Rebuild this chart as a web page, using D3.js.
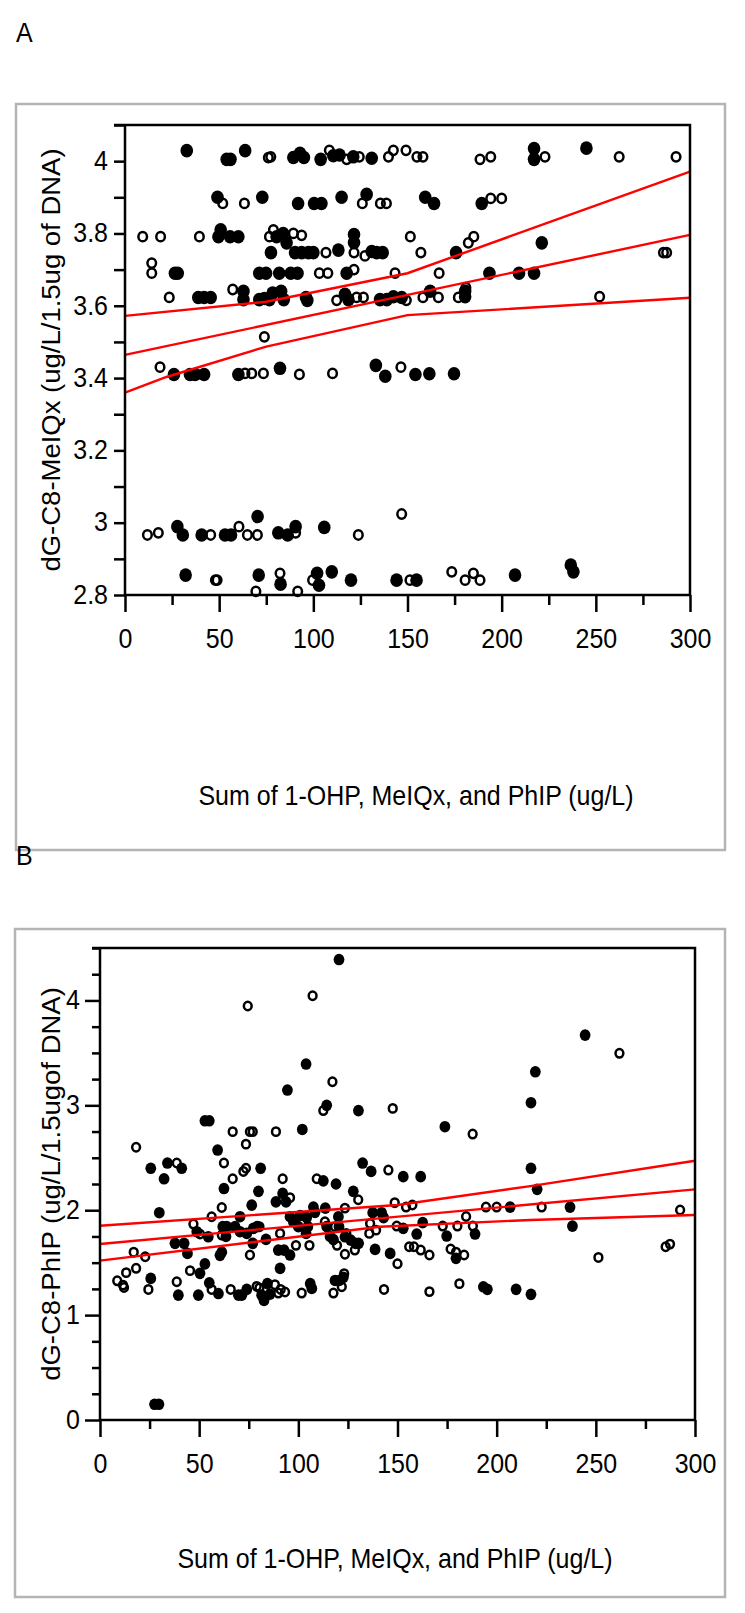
<!DOCTYPE html>
<html>
<head>
<meta charset="utf-8">
<script src="https://cdn.jsdelivr.net/npm/d3@7"></script>
<style>
  html, body { margin: 0; padding: 0; background: #fff; }
  svg { display: block; }
</style>
</head>
<body>
<svg id="chart" width="745" height="1613"></svg>
<script>

// ---- shared axis values ----
var xMajor = [0, 50, 100, 150, 200, 250, 300];
var xMinor = [25, 75, 125, 175, 225, 275];

// ---- panel A : dG-C8-MeIQx ----
var aYMajor = [2.8, 3, 3.2, 3.4, 3.6, 3.8, 4];
var aYMinor = [2.9, 3.1, 3.3, 3.5, 3.7, 3.9, 4.1];

var aFilled = [
  [32.8,4.029],[54,4.005],[56,4.005],[63.8,4.029],[89.4,4.01],[92.9,4.022],[95,4.01],[103.9,4.005],
  [110.6,4.015],[113.9,4.017],[121.2,4.012],[131,4.008],[217.2,4.035],[217.2,4.005],[245,4.036],
  [49.1,3.9],[72.9,3.9],[91.9,3.883],[100.4,3.883],[104.3,3.883],[115,3.9],[128.3,3.908],[159.4,3.9],
  [164.1,3.883],[189.4,3.883],
  [49.6,3.791],[50.8,3.81],[55.8,3.791],[60.2,3.791],[80.5,3.791],[84,3.8],[85.8,3.774],[121.6,3.797],
  [121.6,3.775],[221.3,3.774],
  [77.5,3.747],[90.3,3.747],[93.8,3.747],[97.4,3.747],[100,3.747],[113.3,3.754],[131,3.75],[133.6,3.747],
  [136.8,3.747],[175.8,3.747],
  [26.5,3.69],[28,3.69],[71.3,3.69],[74.9,3.69],[81.9,3.69],[88,3.69],[91.6,3.69],[117.7,3.69],
  [193.5,3.69],[209.2,3.69],[217.2,3.69],
  [38.9,3.623],[42,3.623],[45.5,3.623],[62.9,3.64],[62.9,3.617],[71.3,3.617],[74,3.62],[76.7,3.617],
  [78.4,3.635],[82.9,3.64],[84.3,3.617],[96.1,3.623],[96.8,3.615],[116.8,3.632],[118.6,3.617],
  [135.4,3.617],[139,3.617],[142.5,3.625],[146.9,3.623],[162,3.64],[180.6,3.625],[180.6,3.64],
  [26,3.41],[34.5,3.41],[37.2,3.41],[42,3.41],[60.2,3.41],[82.3,3.427],[133.2,3.435],[138.2,3.405],
  [154.2,3.41],[161.6,3.412],[174.7,3.412],
  [27.8,2.989],[30.7,2.966],[40.7,2.966],[53.1,2.966],[56.3,2.966],[70.4,3.017],[81.4,2.972],
  [86.4,2.966],[90.6,2.989],[105.8,2.987],
  [32.2,2.855],[71,2.855],[82.6,2.83],[102,2.86],[103,2.827],[109.8,2.864],[120,2.841],[144.2,2.841],
  [154.8,2.841],[207.1,2.855],[236.7,2.883],[238.1,2.864]
];

var aOpen = [
  [76.1,4.01],[77.4,4.012],[108.5,4.03],[117.7,4.005],[124.4,4.012],[139.9,4.012],[142.5,4.03],
  [149.2,4.03],[155,4.012],[158.2,4.012],[188.5,4.005],[194.2,4.012],[223,4.012],[262.4,4.012],
  [292.6,4.012],
  [51.9,3.883],[63.4,3.883],[126,3.883],[135.6,3.883],[138.8,3.883],[194.2,3.897],[200,3.897],
  [9.4,3.791],[18.9,3.791],[39.5,3.791],[76.7,3.791],[78.8,3.81],[89.4,3.8],[93.8,3.795],[151.5,3.791],
  [182.3,3.774],[185.2,3.791],
  [106.7,3.747],[121.6,3.747],[127.4,3.738],[157.1,3.747],[285.9,3.747],[287.6,3.747],
  [14.2,3.718],[14.2,3.69],[103.2,3.69],[107.7,3.69],[121.6,3.7],[143.4,3.69],[166.8,3.69],
  [23.5,3.623],[57.2,3.645],[112.4,3.615],[123,3.623],[126.6,3.623],[149.4,3.615],[158.2,3.623],
  [166.4,3.623],[177,3.623],[181,3.65],[252,3.625],
  [74,3.514],
  [18.6,3.43],[38,3.41],[63.7,3.413],[67.3,3.413],[73.5,3.413],[92.6,3.41],[110.2,3.413],[146.5,3.43],
  [11.9,2.966],[17.7,2.972],[45.5,2.966],[60.5,2.989],[65,2.966],[70.3,2.966],[90.6,2.972],
  [123.9,2.966],[146.9,3.024],
  [48,2.841],[48.9,2.841],[69.5,2.81],[82.3,2.86],[91.7,2.81],[99.6,2.841],[151.3,2.841],[173.5,2.864],
  [180.6,2.841],[185,2.86],[188.5,2.841]
];

var aUpper = [[0,3.572],[75,3.611],[150,3.69],[300,3.971]];
var aFit   = [[0,3.464],[300,3.796]];
var aLower = [[0,3.36],[22,3.403],[75,3.487],[150,3.574],[300,3.622]];

// ---- panel B : dG-C8-PhIP ----
var bYMajor = [0, 1, 2, 3, 4];
var bYMinor = [0.25,0.5,0.75,1.25,1.5,1.75,2.25,2.5,2.75,3.25,3.5,3.75,4.25,4.5];

var bFilled = [
  [120.5,4.39],[103.9,3.394],[94.5,3.146],[244.6,3.67],[219.5,3.32],[217.3,3.025],[173.9,2.796],
  [114.3,3.0],[130.3,2.95],[52.9,2.853],[55.1,2.853],[102,2.77],[59.3,2.574],[25.6,2.4],[32.3,2.3],
  [34,2.45],[41.2,2.4],[29.9,1.976],[62.5,2.207],[81,2.4],[79.9,2.18],[88.7,2.08],[92.1,2.16],
  [93.8,2.08],[76.5,2.048],[112.6,2.28],[119,2.25],[127.7,2.18],[132.4,2.45],[136.7,2.37],
  [107.6,2.03],[113.6,2.02],[108.4,1.98],[100.9,1.95],[104.2,1.93],[137.5,1.976],[142,1.976],
  [48.8,1.795],[70.6,1.938],[68.1,1.843],[54.6,1.747],[37.8,1.684],[42.4,1.684],[44.1,1.588],
  [61.9,1.843],[63.9,1.843],[63.5,1.75],[61.4,1.6],[60.5,1.57],[70.6,1.795],[74,1.779],[77.3,1.827],
  [79.3,1.843],[77,1.684],[83.7,1.722],[89.9,1.62],[92.8,1.62],[95.8,1.573],[90.8,1.446],
  [95.8,1.938],[97.5,1.89],[100,1.843],[104.8,1.843],[103.9,1.779],[114.3,1.843],[116,1.75],
  [117.7,1.72],[120.2,1.938],[120.5,1.843],[123.5,1.747],[126.4,1.715],[128.9,1.684],[130.4,1.684],
  [138.7,1.626],[146.3,1.588],[25.6,1.35],[39.5,1.19],[50.4,1.398],[52.9,1.488],[49.6,1.19],
  [55.1,1.308],[59.7,1.206],[69.8,1.19],[71.5,1.19],[74,1.245],[81.5,1.19],[82.7,1.14],[84.4,1.3],
  [85.7,1.2],[106,1.3],[106.8,1.254],[118.5,1.33],[120.7,1.33],[122.7,1.36],[27.5,0.15],[29.7,0.15],
  [152.9,2.32],[161.7,2.32],[217.3,2.4],[220.4,2.199],[143,1.93],[206.8,2.03],[237,2.03],
  [238.2,1.849],[152.9,1.827],[162.7,1.881],[159.7,1.773],[189.1,1.773],[174.8,1.754],[179.5,1.541],
  [193.3,1.27],[195.3,1.246],[209.8,1.246],[217.3,1.198]
];

var bOpen = [
  [107.2,4.045],[74.5,3.947],[117.2,3.225],[261.9,3.496],[147.6,2.971],[187.9,2.726],[112.6,2.95],
  [66.9,2.749],[75.6,2.749],[77,2.749],[88.7,2.749],[18.2,2.6],[73.6,2.63],[38.7,2.45],[62.5,2.45],
  [66.9,2.3],[72.3,2.37],[73.6,2.4],[92.1,2.3],[95.8,2.12],[61.4,2.026],[109.3,2.3],[130.2,2.1],
  [123.5,2.02],[136.2,1.874],[139.2,1.81],[47.1,1.868],[56.3,1.938],[50.4,1.773],[61.4,1.763],
  [80.4,1.843],[75.6,1.573],[90.8,1.779],[98.8,1.665],[105.6,1.665],[113.4,1.89],[118.5,1.843],
  [119.5,1.665],[123.5,1.58],[128.5,1.62],[124.2,1.779],[135.8,1.779],[150,1.49],
  [17,1.6],[18.2,1.446],[22.8,1.556],[13.2,1.405],[8.7,1.327],[11.6,1.286],[12.1,1.263],[24.4,1.245],
  [38.7,1.318],[45.4,1.424],[56.3,1.245],[65.9,1.245],[79,1.274],[80.4,1.26],[88.2,1.29],[89.9,1.21],
  [91.1,1.245],[93.3,1.22],[101.7,1.21],[117.7,1.21],[121.9,1.27],[123.1,1.395],[143.2,1.245],
  [145.4,2.383],[148.6,2.072],[154.3,2.03],[157.5,2.05],[194.6,2.03],[200,2.03],[222.7,2.03],
  [292.5,2.002],[149.6,1.849],[172.8,1.849],[180.2,1.849],[184.6,1.94],[188,1.849],[155.9,1.652],
  [158.3,1.652],[161.7,1.62],[166.1,1.573],[176.8,1.63],[179.5,1.6],[183.6,1.573],[166.1,1.224],
  [181.2,1.3],[251.3,1.55],[285.2,1.652],[287.4,1.677]
];

var bUpper = [[0,1.852],[150,2.05],[217,2.23],[300,2.472]];
var bFit   = [[0,1.678],[300,2.199]];
var bLower = [[0,1.519],[141,1.843],[217,1.907],[300,1.954]];

var xTitle = "Sum of 1-OHP, MeIQx, and PhIP (ug/L)";

//=========================================================================
// drawing
//=========================================================================
var svg = d3.select("#chart");
var font = "'Liberation Sans', Arial, sans-serif";
var fs = 25, stretch = 1.1;

function styleAxis(g) {
  g.attr("font-family", font).attr("font-size", fs);
  g.selectAll("path, line").attr("stroke", "#000").attr("stroke-width", 2.5);
  g.selectAll("text").attr("fill", "#000");
}

function drawPanel(p) {
  // outer grey frame
  svg.append("rect")
    .attr("x", p.frame[0]).attr("y", p.frame[1])
    .attr("width", p.frame[2]).attr("height", p.frame[3])
    .attr("fill", "none").attr("stroke", "#b4b4b4").attr("stroke-width", 2.5);

  svg.append("text")
    .attr("transform", "translate(" + p.letterPos + ") scale(1," + stretch + ")")
    .attr("font-family", font).attr("font-size", fs)
    .text(p.letter);

  var x = d3.scaleLinear().domain([0, 300]).range([p.l, p.r]);
  var y = d3.scaleLinear().domain(p.yDomain).range([p.b, p.t]);

  // points
  var g = svg.append("g");
  g.selectAll(".filled").data(p.filled).enter().append("ellipse")
    .attr("cx", function(d) { return x(d[0]); })
    .attr("cy", function(d) { return y(d[1]); })
    .attr("rx", p.rf).attr("ry", p.rf * 1.08)
    .attr("fill", "#000");
  g.selectAll(".open").data(p.open).enter().append("ellipse")
    .attr("cx", function(d) { return x(d[0]); })
    .attr("cy", function(d) { return y(d[1]); })
    .attr("rx", p.ro).attr("ry", p.ro * 1.08)
    .attr("fill", "none").attr("stroke", "#000").attr("stroke-width", 2.5);

  // regression line and bands
  var line = d3.line().x(function(d) { return x(d[0]); }).y(function(d) { return y(d[1]); });
  [p.upper, p.fit, p.lower].forEach(function(l) {
    svg.append("path").attr("d", line(l))
      .attr("fill", "none").attr("stroke", "#ff0000").attr("stroke-width", 2.4);
  });

  // box: top and right borders
  svg.append("path")
    .attr("d", "M" + (p.l - p.yMinorLen) + "," + p.t + "H" + p.r + "V" + p.b)
    .attr("fill", "none").attr("stroke", "#000").attr("stroke-width", 2.5);

  // y axis
  var gy = svg.append("g").attr("transform", "translate(" + p.l + ",0)")
    .call(d3.axisLeft(y).tickValues(p.yMajor).tickSize(p.yMajorLen).tickSizeOuter(0)
      .tickPadding(p.yPad).tickFormat(function(d) { return String(d); }));
  styleAxis(gy);
  gy.selectAll("text").attr("transform", "scale(1," + stretch + ")").attr("dy", "0.3em");
  gy.select(".domain").attr("d", "M0," + p.t + "V" + p.b);

  var gym = svg.append("g").attr("transform", "translate(" + p.l + ",0)")
    .call(d3.axisLeft(y).tickValues(p.yMinor).tickSize(p.yMinorLen).tickFormat(""));
  styleAxis(gym);
  gym.select(".domain").remove();

  // x axis
  var gx = svg.append("g").attr("transform", "translate(0," + p.b + ")")
    .call(d3.axisBottom(x).tickValues(xMajor).tickSize(17).tickSizeOuter(0)
      .tickFormat(d3.format("d")));
  styleAxis(gx);
  gx.selectAll("text").attr("y", 30.4).attr("dy", "0.71em")
    .attr("transform", "scale(1," + stretch + ")");
  gx.select(".domain").attr("d", "M" + p.l + ",0H" + p.r);

  var gxm = svg.append("g").attr("transform", "translate(0," + p.b + ")")
    .call(d3.axisBottom(x).tickValues(xMinor).tickSize(p.xMinorLen).tickFormat(""));
  styleAxis(gxm);
  gxm.select(".domain").remove();

  // titles
  svg.append("text")
    .attr("transform", "translate(" + p.xTitlePos + ") scale(1," + stretch + ")")
    .attr("text-anchor", "middle").attr("font-family", font).attr("font-size", fs)
    .text(xTitle);

  svg.append("text")
    .attr("transform", "translate(" + p.yTitlePos + ") rotate(-90) scale(" + stretch + ",1)")
    .attr("text-anchor", "middle").attr("font-family", font).attr("font-size", fs)
    .text(p.yTitle);
}

drawPanel({
  letter: "A", letterPos: [16, 42],
  frame: [16, 104, 709, 746],
  l: 125, r: 690, t: 125, b: 595,
  yDomain: [2.8, 4.1], yMajor: aYMajor, yMinor: aYMinor,
  yMajorLen: 11, yMinorLen: 11, yPad: 6, xMinorLen: 10,
  filled: aFilled, open: aOpen, rf: 6.3, ro: 4.3,
  upper: aUpper, fit: aFit, lower: aLower,
  xTitlePos: [416, 805], yTitlePos: [60, 360],
  yTitle: "dG-C8-MeIQx (ug/L/1.5ug of DNA)"
});

drawPanel({
  letter: "B", letterPos: [16, 865],
  frame: [15, 929, 710, 668],
  l: 100, r: 695, t: 948, b: 1420,
  yDomain: [0, 4.5], yMajor: bYMajor, yMinor: bYMinor,
  yMajorLen: 15, yMinorLen: 8, yPad: 5, xMinorLen: 9,
  filled: bFilled, open: bOpen, rf: 5.4, ro: 3.9,
  upper: bUpper, fit: bFit, lower: bLower,
  xTitlePos: [395, 1568], yTitlePos: [60, 1184],
  yTitle: "dG-C8-PhIP (ug/L/1.5ugof DNA)"
});

</script>
</body>
</html>
